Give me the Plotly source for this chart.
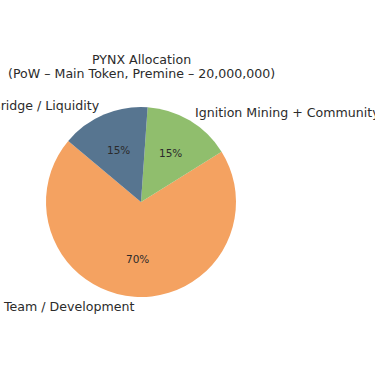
import math
import plotly.graph_objects as go

labels = ["Team / Development", "Ignition Mining + Community", "Bridge / Liquidity"]
values = [70, 15, 15]
colors = ["#F4A261", "#90BE6D", "#577590"]
title_lines = ["PYNX Allocation", "(PoW – Main Token, Premine – 20,000,000)"]

W = H = 375
# pie domain (paper coords)
dom_x = [46 / W, 236 / W]
dom_y = [1 - 297 / H, 1 - 107 / H]
start_angle = 140  # degrees, counterclockwise from 3 o'clock (matplotlib style)
text_color = "#2b2b2b"
font_family = "DejaVu Sans"

total = sum(values)
# plotly's counterclockwise layout: first slice spans [rotation, rotation + its angle] clockwise from 12 o'clock
first_end = start_angle + 360 * values[0] / total
rotation = 90 - first_end
while rotation < -360:
    rotation += 360

fig = go.Figure()
fig.add_trace(go.Pie(
    labels=labels, values=values, sort=False,
    direction="counterclockwise", rotation=rotation,
    marker=dict(colors=colors, line=dict(width=0)),
    textinfo="none", hoverinfo="label+percent",
    domain=dict(x=dom_x, y=dom_y), showlegend=False,
))

# geometry for label placement derived from the domain and the values
cx = (dom_x[0] + dom_x[1]) / 2
cy = (dom_y[0] + dom_y[1]) / 2
r_px = min((dom_x[1] - dom_x[0]) * W, (dom_y[1] - dom_y[0]) * H) / 2
ang = start_angle
annotations = []
for lab, v in zip(labels, values):
    span = 360 * v / total
    mid = math.radians(ang + span / 2)
    ang += span
    c, s = math.cos(mid), math.sin(mid)
    lx = cx + 1.1 * r_px * c / W
    ly = cy + 1.1 * r_px * s / H
    annotations.append(dict(
        x=lx, y=ly, xref="paper", yref="paper", text=lab, showarrow=False,
        xanchor="left" if c > 0 else "right", yanchor="middle",
        borderpad=0, borderwidth=0,
        font=dict(size=12.6, color=text_color, family=font_family),
    ))
    px = cx + 0.6 * r_px * c / W
    py = cy + 0.6 * r_px * s / H
    annotations.append(dict(
        x=px, y=py, xref="paper", yref="paper", text=f"{v / total * 100:.0f}%",
        showarrow=False, xanchor="center", yanchor="middle",
        font=dict(size=10.5, color=text_color, family=font_family),
    ))

for i, t in enumerate(title_lines):
    annotations.append(dict(
        x=cx, y=1 - (59 + 14 * i) / H, xref="paper", yref="paper", text=t,
        showarrow=False, xanchor="center", yanchor="middle",
        font=dict(size=12.6, color=text_color, family=font_family),
    ))

fig.update_layout(
    width=W, height=H, margin=dict(l=0, r=0, t=0, b=0),
    paper_bgcolor="white", plot_bgcolor="white",
    annotations=annotations,
)
fig.write_html(
    "out.html",
    config={"displayModeBar": False},
    post_script="document.body.style.margin='0';document.body.style.overflow='hidden';",
)
